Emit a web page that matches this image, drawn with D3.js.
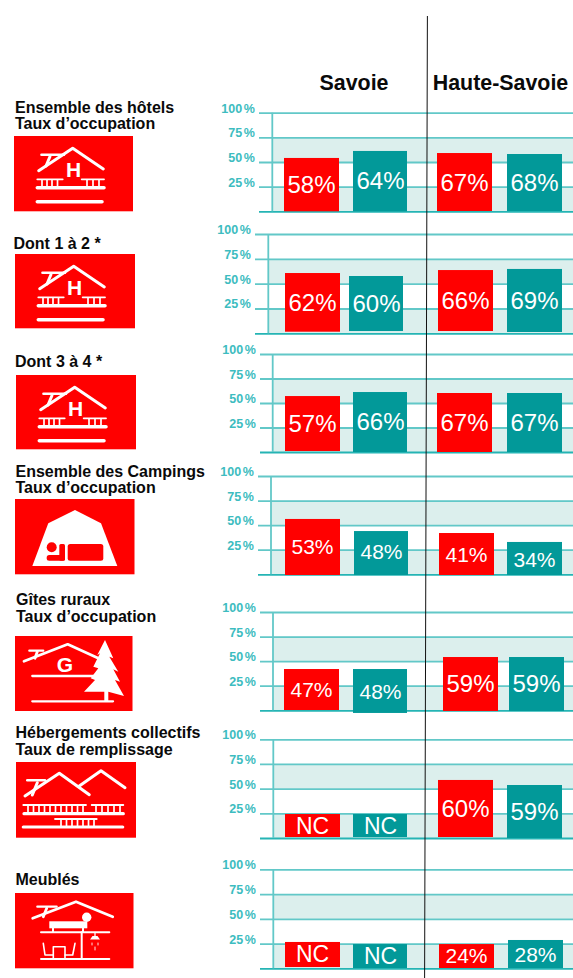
<!DOCTYPE html>
<html>
<head>
<meta charset="utf-8">
<title>Taux d'occupation Savoie / Haute-Savoie</title>
<script src="https://cdnjs.cloudflare.com/ajax/libs/d3/7.8.5/d3.min.js"></script>
<style>
    html, body { margin: 0; padding: 0; background: #fff; overflow: hidden; }
    svg { display: block; font-family: "Liberation Sans", Arial, sans-serif; }
    .tick text { font-size: 12.5px; font-weight: bold; fill: #3dbcc0; word-spacing: -1.8px; }
    .tick line { stroke: #62c8c8; stroke-width: 1.8; }
    .title { font-weight: bold; font-size: 16px; fill: #0a0a0a; }
    .region { font-weight: bold; font-size: 21.4px; fill: #0a0a0a; text-anchor: middle; }
    .val { fill: #fff; text-anchor: middle; }
</style>
</head>
<body>
<div id="chart"></div>
<script>
// Values
var regions = ["Savoie", "Haute-Savoie"];
var axisTicks = [0, 25, 50, 75, 100];
var shadedBands = [[50, 75], [0, 25]];

var panelTitles = [
    ["Ensemble des hôtels", "Taux d’occupation"],
    ["Dont 1 à 2 *"],
    ["Dont 3 à 4 *"],
    ["Ensemble des Campings", "Taux d’occupation"],
    ["Gîtes ruraux", "Taux d’occupation"],
    ["Hébergements collectifs", "Taux de remplissage"],
    ["Meublés"]
];

// Printed labels, in the order Savoie red, Savoie teal, Haute-Savoie red, Haute-Savoie teal
var printedValues = [
    ["58%", "64%", "67%", "68%"],
    ["62%", "60%", "66%", "69%"],
    ["57%", "66%", "67%", "67%"],
    ["53%", "48%", "41%", "34%"],
    ["47%", "48%", "59%", "59%"],
    ["NC", "NC", "60%", "59%"],
    ["NC", "NC", "24%", "28%"]
];

// The bars do not follow their labels exactly, so tops and feet are read on each axis
var barTops = [
    [54.1, 61.2, 59.1, 58.1],
    [60.7, 57.7, 63.7, 64.8],
    [57.1, 61.2, 60.2, 60.2],
    [56.3, 44, 42, 32.9],
    [42, 42, 54.2, 54.2],
    [24.3, 24.3, 58.8, 53.7],
    [26.6, 24.5, 24.5, 28.6]
];
var barFeet = [
    [0, 0, 0.3, 0.3],
    [1.6, 2.3, 2.3, 1.3],
    [1, 0, 0, 0],
    [-0.7, -0.7, -0.7, -0.7],
    [0.3, -2.7, -0.7, -0.7],
    [1, 1, 1, 0],
    [1.3, 0.3, 0.3, 0.3]
];

var W = 573, H = 978;
var RED = "#ff0000", TEAL = "#029999", BAND = "#dcefed";

// Page layout, one entry per panel (the original is a hand-placed montage)
var layout = [
    { top: 112.7, base: 211.3, tick: 259, axis: 272.3, titleX: 15, titleY: [113.3, 129], icon: [14, 136, 119, 75.3], kind: "hotel",
      barX: [284, 353, 437, 507], textY: [193, 189.3, 191, 191], textSize: [24, 24, 24, 24] },
    { top: 234, base: 333.3, tick: 255, axis: 268.3, titleX: 13.5, titleY: [249], icon: [15, 254, 120, 74.3], kind: "hotel",
      barX: [285, 349, 438, 507], textY: [310.7, 312, 308.7, 308.7], textSize: [24, 24, 24, 24] },
    { top: 354, base: 452, tick: 260, axis: 272.7, titleX: 15, titleY: [366.7], icon: [16, 375, 120, 74.3], kind: "hotel",
      barX: [285, 353, 437, 507], textY: [431.7, 430, 431, 431], textSize: [24, 24, 24, 24] },
    { top: 476, base: 574.3, tick: 258, axis: 271, titleX: 15.5, titleY: [476.7, 492.7], icon: [15, 499, 119.5, 75.3], kind: "camping",
      barX: [285, 354, 439, 507], textY: [554, 559.3, 561.7, 567], textSize: [21, 21, 21, 21] },
    { top: 612, base: 710.3, tick: 260, axis: 273, titleX: 16, titleY: [605.3, 621.7], icon: [15, 636, 117.5, 75], kind: "gite",
      barX: [284, 353, 443, 509], textY: [697, 698.7, 692, 692], textSize: [21, 21, 24, 24] },
    { top: 739.3, base: 838, tick: 260, axis: 273.3, titleX: 15.5, titleY: [738, 754.7], icon: [16, 762, 120, 75.7], kind: "collectif",
      barX: [285, 353, 438, 507], textY: [834, 834, 817.3, 820], textSize: [23, 23, 24, 24] },
    { top: 869.3, base: 968.3, tick: 260, axis: 273.3, titleX: 15.5, titleY: [885], icon: [15, 893, 118.5, 75.3], kind: "meuble",
      barX: [285, 353, 439, 508], textY: [962, 964, 963.3, 961.7], textSize: [23, 23, 21, 21] }
];

var svg = d3.select("#chart").append("svg")
    .attr("width", W)
    .attr("height", H);

// Region headers
svg.selectAll(".region")
    .data(regions)
    .enter().append("text")
    .attr("class", "region")
    .attr("x", function (d, i) { return [354, 500.5][i]; })
    .attr("y", 90)
    .text(function (d) { return d; });

layout.forEach(function (p, i) {
    var y = d3.scaleLinear().domain([0, 100]).range([p.base, p.top]);
    var x = d3.scaleOrdinal().domain([0, 1, 2, 3]).range(p.barX);
    var g = svg.append("g").attr("class", "panel");

    // Shaded bands, behind the grid
    g.selectAll(".band")
        .data(shadedBands)
        .enter().append("rect")
        .attr("class", "band")
        .attr("x", p.axis)
        .attr("width", W - p.axis)
        .attr("y", function (d) { return y(d[1]); })
        .attr("height", function (d) { return y(d[0]) - y(d[1]); })
        .attr("fill", BAND);

    var axis = g.append("g")
        .attr("class", "axis")
        .attr("transform", "translate(" + p.tick + ",0)")
        .call(d3.axisLeft(y)
            .tickValues(axisTicks)
            .tickSize(-(W - p.tick))
            .tickPadding(4)
            .tickFormat(function (d) { return d ? d + " %" : ""; }));
    axis.select(".domain").remove();
    axis.selectAll(".tick text").attr("dy", "-0.5");
    axis.selectAll(".tick line")
        .filter(function (d) { return d === 0; })
        .style("stroke", "#25b4b4");

    g.append("line")
        .attr("x1", p.axis).attr("x2", p.axis)
        .attr("y1", y(100)).attr("y2", y(0))
        .attr("stroke", "#62c8c8")
        .attr("stroke-width", 1.8);

    // Bars
    g.selectAll(".bar")
        .data(printedValues[i])
        .enter().append("rect")
        .attr("class", "bar")
        .attr("x", function (d, j) { return x(j); })
        .attr("width", function (d, j) { return j === 1 ? 54 : 55; })
        .attr("y", function (d, j) { return y(barTops[i][j]); })
        .attr("height", function (d, j) { return y(barFeet[i][j]) - y(barTops[i][j]); })
        .attr("fill", function (d, j) { return j % 2 ? TEAL : RED; });

    g.selectAll(".val")
        .data(printedValues[i])
        .enter().append("text")
        .attr("class", "val")
        .attr("x", function (d, j) { return x(j) + 27.5; })
        .attr("y", function (d, j) { return p.textY[j]; })
        .attr("font-size", function (d, j) { return p.textSize[j]; })
        .text(function (d) { return d; });

    // Left titles
    g.selectAll(".title")
        .data(panelTitles[i])
        .enter().append("text")
        .attr("class", "title")
        .attr("x", p.titleX)
        .attr("y", function (d, j) { return p.titleY[j]; })
        .text(function (d) { return d; });

    drawIcon(g, p);
});

// Divider between the two departments, slightly off vertical in the original
svg.append("line")
    .attr("x1", 427.4).attr("y1", 16)
    .attr("x2", 424.6).attr("y2", H)
    .attr("stroke", "#111")
    .attr("stroke-width", 1);

function strokes(g, paths, width) {
    g.selectAll(null)
        .data(paths)
        .enter().append("path")
        .attr("d", d3.line())
        .attr("fill", "none")
        .attr("stroke", "#fff")
        .attr("stroke-width", width)
        .attr("stroke-linecap", "round")
        .attr("stroke-linejoin", "round");
}

function spindles(g, xs, y0, y1) {
    g.selectAll(null)
        .data(xs)
        .enter().append("line")
        .attr("x1", function (d) { return d; })
        .attr("x2", function (d) { return d; })
        .attr("y1", y0).attr("y2", y1)
        .attr("stroke", "#fff")
        .attr("stroke-width", 1.7);
}

function letter(g, s, x, y) {
    g.append("text")
        .attr("x", x).attr("y", y)
        .attr("text-anchor", "middle")
        .attr("font-size", 21)
        .attr("font-weight", "bold")
        .attr("fill", "#fff")
        .text(s);
}

function shape(g, pts, fill) {
    g.append("path")
        .attr("d", d3.line()(pts) + "Z")
        .attr("fill", fill);
}

// Pictograms, in coordinates local to the red tile
function drawIcon(parent, p) {
    var box = p.icon;
    var g = parent.append("g").attr("transform", "translate(" + box[0] + "," + box[1] + ")");
    g.append("rect").attr("width", box[2]).attr("height", box[3]).attr("fill", RED);

    if (p.kind === "hotel") {
        strokes(g, [
            [[24.7, 34.7], [58.7, 12.3], [89.3, 33]],
            [[36, 20.5], [32, 30]]
        ], 3);
        strokes(g, [[[27.5, 18.7], [50, 18.7]]], 2.6);
        letter(g, "H", 59.7, 40.5);
        strokes(g, [[[23.3, 43.3], [48.7, 43.3]], [[67.7, 43.3], [90, 43.3]]], 1.8);
        strokes(g, [[[23.3, 51.7], [90, 51.7]], [[23.3, 65.7], [88, 65.7]]], 3.5);
        spindles(g, [28, 33, 38, 43.5, 73, 79, 85], 43.3, 51.7);
    } else if (p.kind === "camping") {
        shape(g, [[17.3, 67], [33.3, 24.3], [60, 11], [86, 24.3], [102.3, 67]], "#fff");
        g.append("circle").attr("cx", 36.7).attr("cy", 48.3).attr("r", 5).attr("fill", RED);
        g.append("rect").attr("x", 31.7).attr("y", 56).attr("width", 18.3).attr("height", 5.7).attr("rx", 2.5).attr("fill", RED);
        g.append("rect").attr("x", 44.3).attr("y", 45).attr("width", 5.7).attr("height", 16.7).attr("rx", 1.5).attr("fill", RED);
        g.append("rect").attr("x", 52.7).attr("y", 45).attr("width", 35.6).attr("height", 16.7).attr("rx", 2.5).attr("fill", RED);
    } else if (p.kind === "gite") {
        strokes(g, [
            [[9, 25.3], [52.7, 8.3], [85, 23]],
            [[22.3, 15.7], [20, 22.3]]
        ], 2.8);
        strokes(g, [[[14.3, 14.7], [28.3, 14.7]]], 2.2);
        letter(g, "G", 50, 35.5);
        strokes(g, [[[17.3, 40], [80, 40]], [[17.3, 65.3], [98, 65.3]]], 2.3);
        shape(g, [[90, 4], [98.3, 22.3], [94.3, 20.7], [103.3, 35.7], [98.3, 33.3], [105, 45.7], [100, 44], [109, 60],
            [93.3, 55.7], [93.3, 65.3], [89.3, 65.3], [89.3, 55.7], [69, 55.7], [80, 44], [75.7, 42.3], [83.3, 32.3],
            [78.3, 30.7], [85, 17.3], [82.3, 19]], "#fff");
    } else if (p.kind === "collectif") {
        strokes(g, [
            [[9, 34], [43.3, 11.3], [73.3, 32.7]],
            [[63.3, 24], [85, 8.7], [109, 25.7]],
            [[21.3, 20.7], [16.3, 33]]
        ], 3);
        strokes(g, [[[11.3, 18.3], [29, 18.3]]], 2.6);
        strokes(g, [[[7.3, 43], [70, 43]], [[75.7, 43], [107.3, 43]], [[39, 57], [80.7, 57]]], 1.8);
        strokes(g, [[[8, 51.7], [107.3, 51.7]], [[7.3, 65], [106.7, 65]]], 3.2);
        spindles(g, [12, 17.5, 23, 28.5, 34, 39.5, 45, 50.5, 56, 61.5, 67, 80, 86, 92, 98, 104], 43, 51.7);
        spindles(g, [45, 50.5, 56, 61.5, 67, 72.5, 78], 57, 65);
    } else if (p.kind === "meuble") {
        strokes(g, [
            [[17.7, 25.3], [61, 8.7], [97.7, 23.7]],
            [[31.7, 15.3], [28.3, 23.7]]
        ], 2.8);
        strokes(g, [[[22.3, 13.7], [41.7, 13.7]]], 2.2);
        g.append("rect").attr("x", 34.3).attr("y", 28.3).attr("width", 38).attr("height", 7).attr("fill", "#fff");
        g.append("circle").attr("cx", 71.7).attr("cy", 24.3).attr("r", 4.7).attr("fill", "#fff");
        strokes(g, [
            [[38, 35], [38, 39]],
            [[68, 35], [68, 39]],
            [[26, 39.3], [94.3, 39.3]],
            [[26, 66], [94.3, 66]],
            [[66.7, 39.3], [66.7, 66]]
        ], 2);
        strokes(g, [
            [[38.3, 65.7], [38.3, 53.7], [50, 53.7], [50, 65.7]],
            [[28.3, 50.3], [30, 62], [38.3, 62]],
            [[60, 50.3], [57.7, 62], [50, 62]]
        ], 1.6);
        strokes(g, [[[80, 39.3], [80, 43]]], 1.3);
        shape(g, [[75, 46.5], [77.5, 43], [82.5, 43], [85, 46.5]], "#fff");
        strokes(g, [[[77, 50], [77, 52]], [[83, 50], [83, 52]], [[80, 54], [80, 57]]], 0.9);
    }
}
</script>
</body>
</html>
